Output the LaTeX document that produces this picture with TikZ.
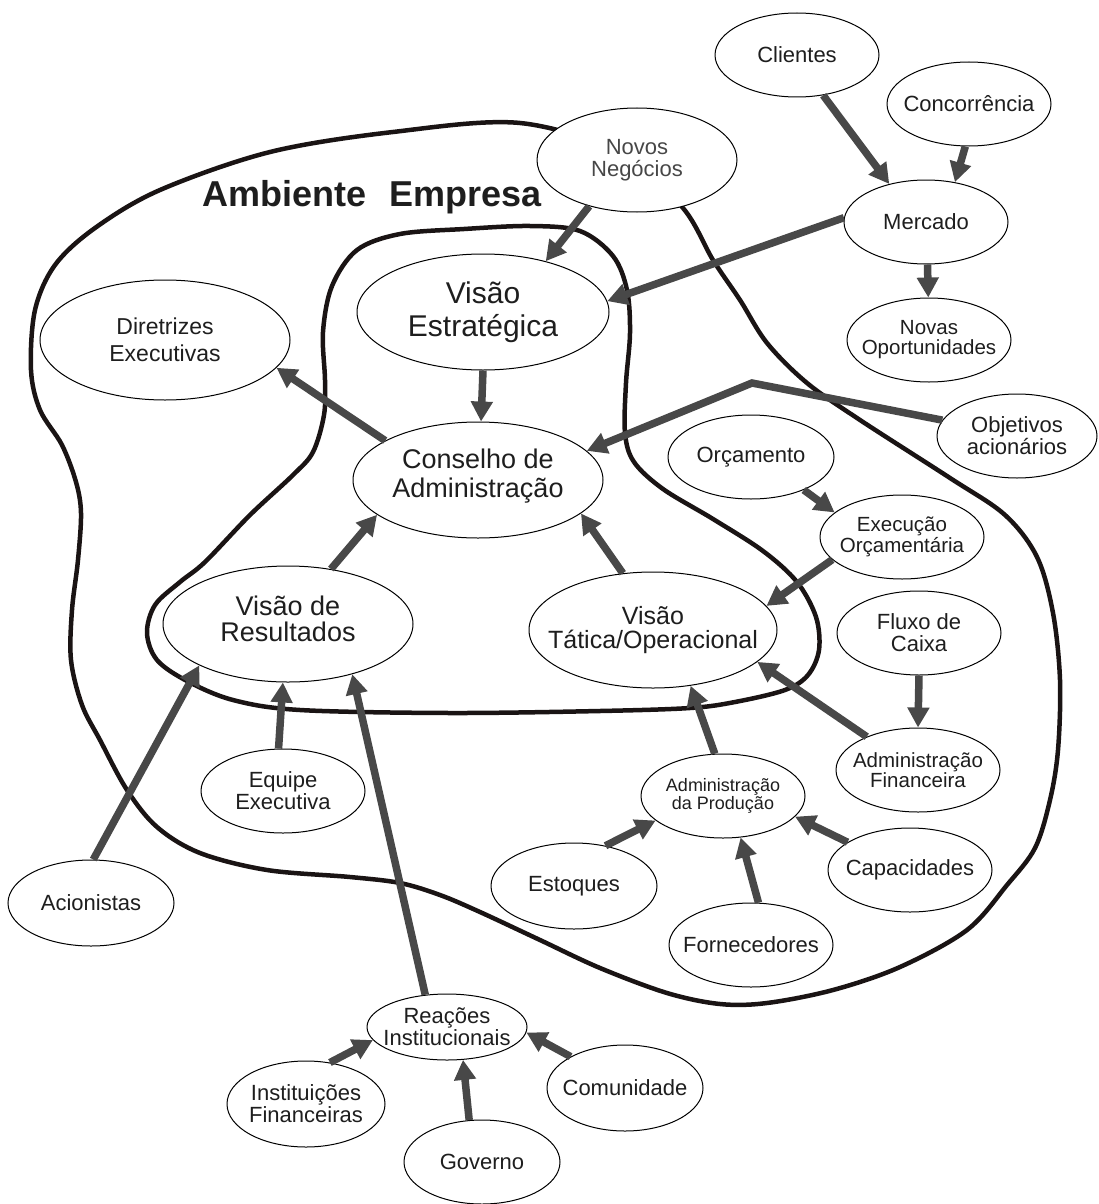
\documentclass[tikz,border=0pt]{standalone}
\usepackage{fontspec}
\setmainfont{Liberation Sans}
\usetikzlibrary{shapes.geometric,arrows.meta}
\definecolor{arrc}{HTML}{484848}
\definecolor{zonec}{HTML}{1A1414}
\definecolor{txtc}{HTML}{1E1E1E}
\tikzset{
  bub/.style={ellipse, draw=black, line width=1pt, fill=white, inner sep=0pt},
  lbl/.style={align=center, text=txtc, font=\fontsize{22}{22}\selectfont},
  arr/.style={draw=arrc, line width=7.5pt, -{Triangle[length=20pt,width=21pt]}},
  zone/.style={draw=zonec, line width=4.5pt},
}
\begin{document}
\begin{tikzpicture}[x=1pt,y=-1pt]
\useasboundingbox (0,0) rectangle (1099,1204);

% outer boundary: company environment
\draw[zone] plot[smooth cycle, tension=0.55] coordinates {
  (393,132) (520,123) (625,155) (683,208) (713,260) (740,300) (767,343)
  (807,383) (860,420) (950,478) (1005,515) (1037,557) (1053,613) (1060,680)
  (1058,750) (1050,800) (1035,848) (1007,885) (967,930) (900,967) (833,990)
  (767,1003) (720,1004) (667,993) (600,968) (540,940) (480,912) (440,895)
  (400,883) (350,877) (267,870) (200,853) (157,827) (127,790) (100,740)
  (82,705) (71,660) (72,610) (78,560) (81,513) (76,482) (62,445) (40,410)
  (31,370) (35,310) (55,265) (95,228) (160,190) (270,152)};

% inner boundary
\draw[zone] plot[smooth cycle, tension=0.55] coordinates {
  (464,229) (530,226) (580,231) (613,256) (627,290) (630,333) (626,383)
  (625,433) (634,462) (663,489) (713,519) (763,551) (797,582) (816,617)
  (819,650) (808,675) (785,690) (735,702) (690,708) (600,711) (450,713)
  (300,710) (233,700) (187,681) (157,660) (147,633) (155,605) (180,582)
  (205,562) (250,515) (293,475) (313,452) (324,415) (325,380) (323,332)
  (332,286) (357,250) (400,234)};

\node[font=\bfseries\fontsize{36}{36}\selectfont, text=txtc, anchor=base] (amb) at (372,206) {Ambiente\hspace{23pt}Empresa};

% bubbles
\node[bub, minimum width=164pt, minimum height=84pt] (cli) at (797,55) {};
\node[lbl] (cli-t) at (cli) {Clientes};
\node[bub, minimum width=164pt, minimum height=84pt] (con) at (969,104) {};
\node[lbl] (con-t) at (con) {Concorrência};
\node[bub, minimum width=200pt, minimum height=104pt] (nov) at (637,160) {};
\node[lbl, text=black!72] (nov-t) at (nov) {Novos\\Negócios};
\node[bub, minimum width=164pt, minimum height=84pt] (mer) at (926,222) {};
\node[lbl] (mer-t) at (mer) {Mercado};
\node[bub, minimum width=164pt, minimum height=84pt] (opo) at (929,340) {};
\node[lbl, font=\fontsize{20.5}{20}\selectfont] (opo-t) at (opo) {Novas\\Oportunidades};
\node[bub, minimum width=250pt, minimum height=120pt] (dir) at (165,340) {};
\node[lbl, font=\fontsize{23}{27}\selectfont] (dir-t) at (dir) {Diretrizes\\Executivas};
\node[bub, minimum width=252pt, minimum height=116pt] (ves) at (483,312) {};
\node[lbl, font=\fontsize{30}{33}\selectfont] (ves-t) at (ves) {Visão\\Estratégica};
\node[bub, minimum width=250pt, minimum height=116pt] (cons) at (478,480) {};
\node[lbl, font=\fontsize{27}{29}\selectfont] (cons-t) at ([yshift=4pt]cons) {Conselho de\\Administração};
\node[bub, minimum width=160pt, minimum height=84pt] (obj) at (1017,436) {};
\node[lbl] (obj-t) at (obj) {Objetivos\\acionários};
\node[bub, minimum width=166pt, minimum height=84pt] (orc) at (751,457) {};
\node[lbl] (orc-t) at (orc) {Orçamento};
\node[bub, minimum width=164pt, minimum height=84pt] (exe) at (902,537) {};
\node[lbl, font=\fontsize{20.5}{19}\selectfont] (exe-t) at (exe) {Execução\\Orçamentária};
\node[bub, minimum width=248pt, minimum height=116pt] (vta) at (653,630) {};
\node[lbl, font=\fontsize{25}{24}\selectfont] (vta-t) at (vta) {Visão\\Tática/Operacional};
\node[bub, minimum width=250pt, minimum height=116pt] (vre) at (288,624) {};
\node[lbl, font=\fontsize{27}{26}\selectfont] (vre-t) at ([yshift=5pt]vre) {Visão de\\Resultados};
\node[bub, minimum width=164pt, minimum height=84pt] (flu) at (919,633) {};
\node[lbl] (flu-t) at (flu) {Fluxo de\\Caixa};
\node[bub, minimum width=164pt, minimum height=84pt] (adf) at (918,770) {};
\node[lbl, font=\fontsize{20.5}{20}\selectfont] (adf-t) at (adf) {Administração\\Financeira};
\node[bub, minimum width=164pt, minimum height=84pt] (adp) at (723,796) {};
\node[lbl, font=\fontsize{18}{17.5}\selectfont] (adp-t) at (adp) {Administração\\da Produção};
\node[bub, minimum width=164pt, minimum height=84pt] (equ) at (283,791) {};
\node[lbl] (equ-t) at (equ) {Equipe\\Executiva};
\node[bub, minimum width=166pt, minimum height=86pt] (aci) at (91,903) {};
\node[lbl] (aci-t) at (aci) {Acionistas};
\node[bub, minimum width=166pt, minimum height=86pt] (est) at (574,886) {};
\node[lbl] (est-t) at (est) {Estoques};
\node[bub, minimum width=164pt, minimum height=84pt] (cap) at (910,870) {};
\node[lbl] (cap-t) at (cap) {Capacidades};
\node[bub, minimum width=164pt, minimum height=84pt] (for) at (751,945) {};
\node[lbl] (for-t) at (for) {Fornecedores};
\node[bub, minimum width=160pt, minimum height=66pt] (rea) at (447,1027) {};
\node[lbl] (rea-t) at (rea) {Reações\\Institucionais};
\node[bub, minimum width=158pt, minimum height=86pt] (ins) at (306,1104) {};
\node[lbl] (ins-t) at (ins) {Instituições\\Financeiras};
\node[bub, minimum width=156pt, minimum height=86pt] (com) at (625,1088) {};
\node[lbl] (com-t) at (com) {Comunidade};
\node[bub, minimum width=156pt, minimum height=84pt] (gov) at (482,1162) {};
\node[lbl] (gov-t) at (gov) {Governo};

% influences
\coordinate (objbend) at (752,383);
\draw[arr] (cli.-57) -- (mer.134);
\draw[arr] (con.-95) -- (mer.54);
\draw[arr] (nov.-136) -- (ves.39);
\draw[arr] (mer.177) -- (ves.5.5);
\draw[arr] (mer.-88) -- (opo.91);
\draw[arr] (ves.-90) -- (cons.87);
\draw[arr] (cons.157) -- (dir.-14);
\draw[arr] (obj.168) -- (objbend) -- (cons.15);
\draw[arr] (orc.-32) -- (exe.160);
\draw[arr] (exe.-162) -- (vta.12);
\draw[arr] (vre.52) -- (cons.-161.5);
\draw[arr] (vta.118) -- (cons.-18.6);
\draw[arr] (flu.-90) -- (adf.90);
\draw[arr] (adf.147) -- (vta.-17);
\draw[arr] (adp.101) -- (vta.-56);
\draw[arr] (equ.96) -- (vre.-95);
\draw[arr] (aci.87) -- (vre.-155);
\draw[arr] (rea.124) -- (vre.-38);
\draw[arr] (est.52) -- (adp.-160);
\draw[arr] (for.80.5) -- (adp.-67.5);
\draw[arr] (cap.156) -- (adp.-16);
\draw[arr] (ins.60) -- (rea.-170);
\draw[arr] (gov.107) -- (rea.-64);
\draw[arr] (com.150) -- (rea.-4);
\end{tikzpicture}
\end{document}
